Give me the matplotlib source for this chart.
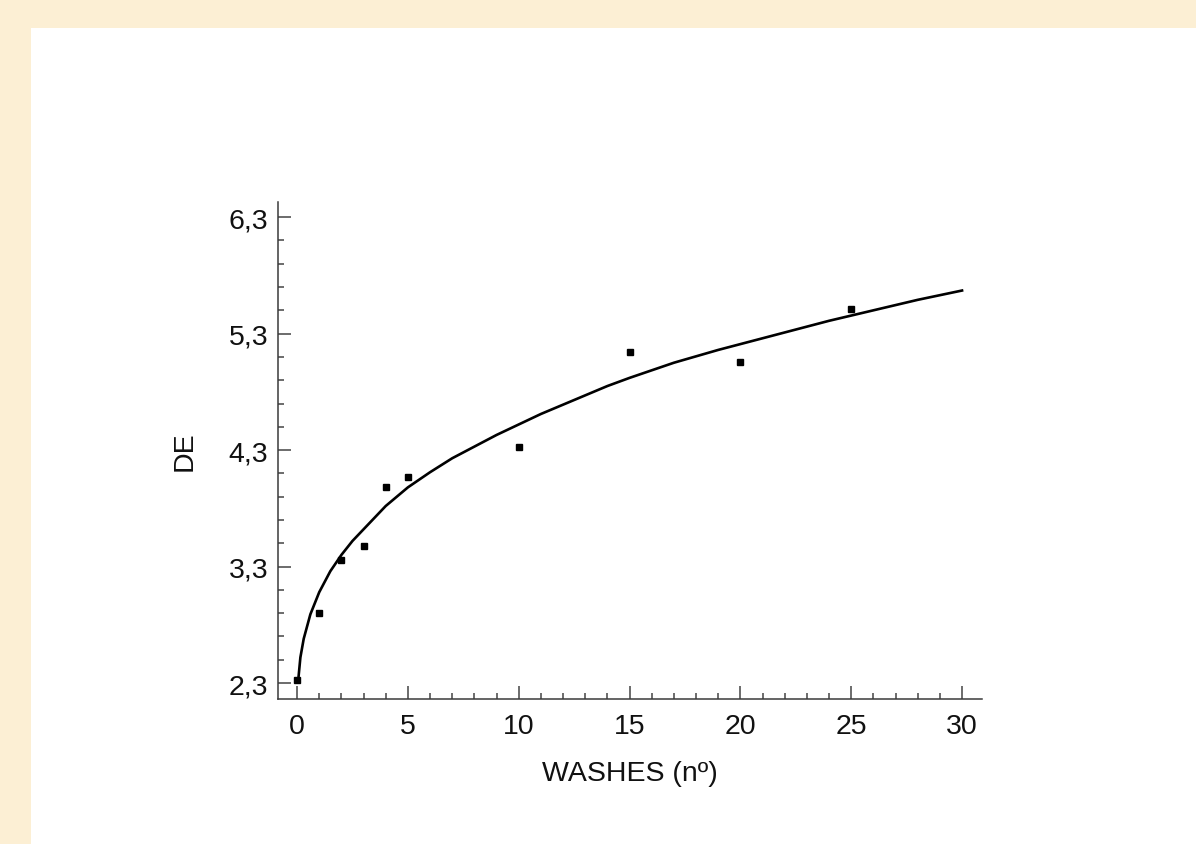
import numpy as np
import matplotlib.pyplot as plt
from matplotlib.patches import Rectangle
from matplotlib.ticker import FuncFormatter

# measured points
washes = [0, 1, 2, 3, 4, 5, 10, 15, 20, 25]
de = [2.33, 2.90, 3.36, 3.48, 3.98, 4.07, 4.33, 5.14, 5.06, 5.51]

# fitted curve
fit_x = [0.05, 0.15, 0.3, 0.6, 1, 1.5, 2, 2.5, 3, 3.5, 4, 4.5, 5, 6, 7, 8, 9, 10,
         11, 12, 13, 14, 15, 16, 17, 18, 19, 20, 21, 22, 23, 24, 25, 26, 27, 28, 29, 30]
fit_y = [2.32, 2.52, 2.68, 2.89, 3.08, 3.26, 3.40, 3.52, 3.62, 3.72, 3.82, 3.90, 3.98,
         4.11, 4.23, 4.33, 4.43, 4.52, 4.61, 4.69, 4.77, 4.85, 4.92, 4.985, 5.05, 5.105,
         5.16, 5.21, 5.26, 5.31, 5.36, 5.41, 5.455, 5.50, 5.545, 5.59, 5.63, 5.67]

xticks = [0, 5, 10, 15, 20, 25, 30]
yticks = [2.3, 3.3, 4.3, 5.3, 6.3]

plt.rcParams['font.family'] = ['Liberation Sans', 'DejaVu Sans']

fig = plt.figure(figsize=(11.96, 8.45), dpi=100)
fig.patch.set_facecolor('#fcefd4')
# white panel behind the plot
fig.patches.append(Rectangle((31 / 1196, 0), 1, 1 - 29 / 845, transform=fig.transFigure,
                             facecolor='white', edgecolor='none', zorder=-10))

ax = fig.add_axes([278 / 1196, 1 - 700 / 845, 704 / 1196, 497 / 845])
ax.set_zorder(5)
ax.set_facecolor('none')

ax.plot(fit_x, fit_y, color='black', lw=1.9, zorder=2)
ax.plot(washes, de, 's', color='black', ms=4.8, zorder=3)

ax.set_xlim(-0.86, 30.9)
ax.set_ylim(2.163, 6.43)

ax.spines['top'].set_visible(False)
ax.spines['right'].set_visible(False)
for s in ['left', 'bottom']:
    ax.spines[s].set_color('#3a3a3a')
    ax.spines[s].set_linewidth(1.1)

ax.set_xticks(xticks)
ax.set_xticks(np.arange(0, 31, 1), minor=True)
ax.set_yticks(yticks)
ax.set_yticks(np.arange(2.3, 6.31, 0.2), minor=True)
ax.yaxis.set_major_formatter(FuncFormatter(lambda v, p: f'{v:.1f}'.replace('.', ',')))

ax.tick_params(which='both', direction='in', color='#444444', width=1.1, labelsize=20.5,
               labelcolor='#111111')
ax.tick_params(which='major', length=9.5)
ax.tick_params(which='minor', length=4.5)
ax.tick_params(axis='y', pad=7)
ax.tick_params(axis='x', pad=10)

ax.set_xlabel('WASHES (nº)', fontsize=20.5, color='#111111', labelpad=15)
ax.set_ylabel('DE', fontsize=20.5, color='#111111', labelpad=22)

fig.savefig('out.png', dpi=100, facecolor=fig.get_facecolor())
